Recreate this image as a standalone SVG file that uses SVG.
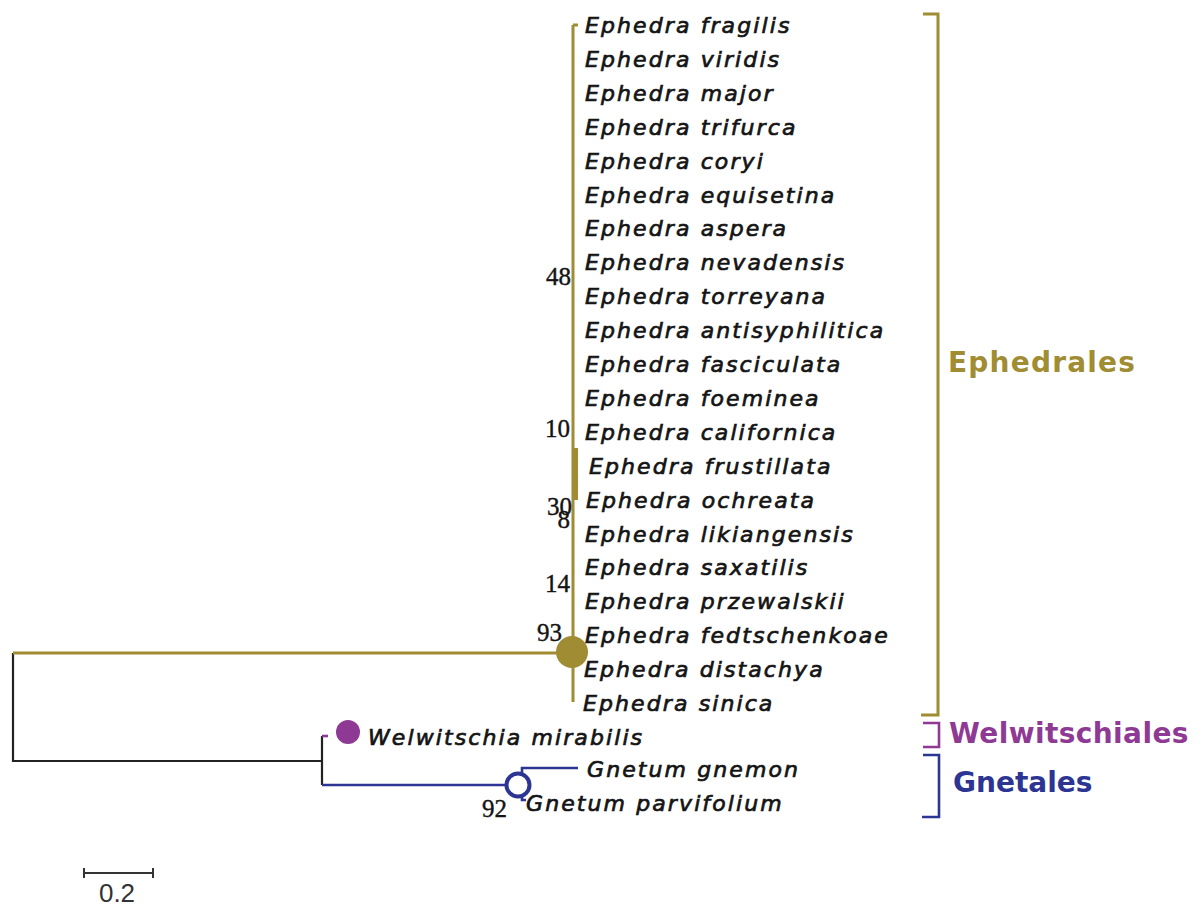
<svg xmlns="http://www.w3.org/2000/svg" width="1202" height="906" viewBox="0 0 1202 906">
<style>
.tx{font-family:"DejaVu Sans","Liberation Sans",sans-serif;font-style:oblique;font-size:22px;letter-spacing:2.1px;fill:#141414;stroke:#141414;stroke-width:0.7px}
.bs{font-family:"Liberation Serif","Times New Roman",serif;font-size:25px;fill:#141414;stroke:#141414;stroke-width:0.4px}
.cl{font-family:"DejaVu Sans","Liberation Sans",sans-serif;font-weight:bold;font-size:28px}
.ol{stroke:#a08c32;fill:none;stroke-width:3}
.bk{stroke:#222;fill:none;stroke-width:2.2}
.bl{stroke:#2c3594;fill:none;stroke-width:2.6}
.pu{stroke:#8e3a94;fill:none;stroke-width:2.6}
</style>
<rect width="1202" height="906" fill="#fff"/>
<g id="connectors">
<path class="bk" d="M13 653 V761 H322 M322 736 V785"/>
<path class="ol" d="M13 653 H573 M573 25 V702 M573 25 H578"/>
<rect x="572" y="448" width="6" height="52" fill="#a08c32"/>
<path class="pu" d="M322 736 H328"/>
<path class="bl" d="M322 785 H507 M522 785 V768 H578 M522 785 V800 H526"/>
<circle cx="572" cy="652" r="16" fill="#a08c32"/>
<circle cx="348" cy="732" r="12" fill="#8e3a94"/>
<circle cx="518" cy="785" r="11.5" fill="#fff" stroke="#2c3594" stroke-width="4"/>
</g>
<g id="bootstrap">
<text class="bs" x="571" y="285" text-anchor="end">48</text>
<text class="bs" x="570" y="437" text-anchor="end">10</text>
<text class="bs" x="572" y="515" text-anchor="end">30</text>
<text class="bs" x="570" y="528" text-anchor="end">8</text>
<text class="bs" x="570" y="592" text-anchor="end">14</text>
<text class="bs" x="562" y="641" text-anchor="end">93</text>
<text class="bs" x="507" y="817" text-anchor="end">92</text>
</g>
<g id="taxa">
<g id="n-fragilis"><text class="tx" x="585" y="33">Ephedra fragilis</text></g>
<g id="n-viridis"><text class="tx" x="585" y="66.9">Ephedra viridis</text></g>
<g id="n-major"><text class="tx" x="585" y="100.8">Ephedra major</text></g>
<g id="n-trifurca"><text class="tx" x="585" y="134.7">Ephedra trifurca</text></g>
<g id="n-coryi"><text class="tx" x="585" y="168.6">Ephedra coryi</text></g>
<g id="n-equisetina"><text class="tx" x="585" y="202.5">Ephedra equisetina</text></g>
<g id="n-aspera"><text class="tx" x="585" y="236.4">Ephedra aspera</text></g>
<g id="n-nevadensis"><text class="tx" x="585" y="270.3">Ephedra nevadensis</text></g>
<g id="n-torreyana"><text class="tx" x="585" y="304.2">Ephedra torreyana</text></g>
<g id="n-antisyphilitica"><text class="tx" x="585" y="338.1">Ephedra antisyphilitica</text></g>
<g id="n-fasciculata"><text class="tx" x="585" y="372">Ephedra fasciculata</text></g>
<g id="n-foeminea"><text class="tx" x="585" y="405.9">Ephedra foeminea</text></g>
<g id="n-californica"><text class="tx" x="585" y="439.8">Ephedra californica</text></g>
<g id="n-frustillata"><text class="tx" x="589" y="473.7">Ephedra frustillata</text></g>
<g id="n-ochreata"><text class="tx" x="586" y="507.6">Ephedra ochreata</text></g>
<g id="n-likiangensis"><text class="tx" x="585" y="541.5">Ephedra likiangensis</text></g>
<g id="n-saxatilis"><text class="tx" x="585" y="575.4">Ephedra saxatilis</text></g>
<g id="n-przewalskii"><text class="tx" x="585" y="609.3">Ephedra przewalskii</text></g>
<g id="n-fedtschenkoae"><text class="tx" x="585" y="643.2">Ephedra fedtschenkoae</text></g>
<g id="n-distachya"><text class="tx" x="584" y="677.1">Ephedra distachya</text></g>
<g id="n-sinica"><text class="tx" x="583" y="711">Ephedra sinica</text></g>
<g id="n-welwitschia"><text class="tx" x="368" y="745">Welwitschia mirabilis</text></g>
<g id="n-gnemon"><text class="tx" x="587" y="777">Gnetum gnemon</text></g>
<g id="n-parvifolium"><text class="tx" x="526" y="811">Gnetum parvifolium</text></g>
</g>
<g id="clades">
<g id="c-ephedrales"><path class="ol" d="M923 14 H938 V715 H921"/><text class="cl" x="948" y="372" fill="#a08c32" letter-spacing="1.2">Ephedrales</text></g>
<g id="c-welwitschiales"><path class="pu" d="M923 723 H939 V747 H923"/><text class="cl" x="949" y="743" fill="#8e3a94" letter-spacing="0.4">Welwitschiales</text></g>
<g id="c-gnetales"><path class="bl" d="M923 755 H939 V817 H922"/><text class="cl" x="953" y="792" fill="#2c3594">Gnetales</text></g>
</g>
<g id="scale">
<path d="M84 873 H153 M84 868 V878 M153 868 V878" stroke="#333" stroke-width="2" fill="none"/>
<text x="117" y="902" text-anchor="middle" font-family="Liberation Sans, Arial, sans-serif" font-size="26" fill="#333">0.2</text>
</g>
</svg>
